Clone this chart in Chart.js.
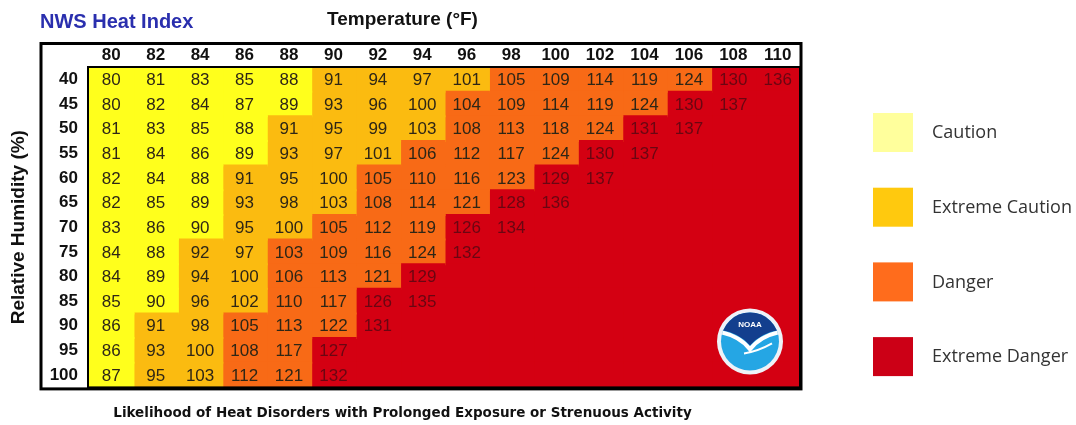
<!DOCTYPE html>
<html>
<head>
<meta charset="utf-8">
<title>NWS Heat Index</title>
<script src="https://cdn.jsdelivr.net/npm/chart.js@4.4.1/dist/chart.umd.min.js"></script>
<style>
  html, body { margin: 0; background: #fff; }
  #wrap { width: 1076px; height: 425px; }
</style>
</head>
<body>
<div id="wrap"><canvas id="heat-chart"></canvas></div>
<script>
var temps = [80, 82, 84, 86, 88, 90, 92, 94, 96, 98, 100, 102, 104, 106, 108, 110];
var humidity = [40, 45, 50, 55, 60, 65, 70, 75, 80, 85, 90, 95, 100];

// heat index per humidity row, left to right from 80F (blank cells left off)
var hi40 = [80, 81, 83, 85, 88, 91, 94, 97, 101, 105, 109, 114, 119, 124, 130, 136];
var hi45 = [80, 82, 84, 87, 89, 93, 96, 100, 104, 109, 114, 119, 124, 130, 137];
var hi50 = [81, 83, 85, 88, 91, 95, 99, 103, 108, 113, 118, 124, 131, 137];
var hi55 = [81, 84, 86, 89, 93, 97, 101, 106, 112, 117, 124, 130, 137];
var hi60 = [82, 84, 88, 91, 95, 100, 105, 110, 116, 123, 129, 137];
var hi65 = [82, 85, 89, 93, 98, 103, 108, 114, 121, 128, 136];
var hi70 = [83, 86, 90, 95, 100, 105, 112, 119, 126, 134];
var hi75 = [84, 88, 92, 97, 103, 109, 116, 124, 132];
var hi80 = [84, 89, 94, 100, 106, 113, 121, 129];
var hi85 = [85, 90, 96, 102, 110, 117, 126, 135];
var hi90 = [86, 91, 98, 105, 113, 122, 131];
var hi95 = [86, 93, 100, 108, 117, 127];
var hi100 = [87, 95, 103, 112, 121, 132];

// first temperature where each band starts, per humidity row
var extremeCautionFrom = [90, 90, 88, 88, 86, 86, 86, 84, 84, 84, 82, 82, 82];
var dangerFrom = [98, 96, 96, 94, 92, 92, 90, 88, 88, 88, 86, 86, 86];
var extremeDangerFrom = [108, 106, 104, 102, 100, 98, 96, 96, 94, 92, 92, 90, 90];

var levels = ['Caution', 'Extreme Caution', 'Danger', 'Extreme Danger'];
var cellColors = ['#ffff1c', '#fbbb10', '#f86a16', '#d40012'];
var legendColors = ['#ffff9c', '#ffc90e', '#ff6c1c', '#cc0016'];

var rows = [hi40, hi45, hi50, hi55, hi60, hi65, hi70, hi75, hi80, hi85, hi90, hi95, hi100];

function levelOf(row, t) {
  if (t >= extremeDangerFrom[row]) return 3;
  if (t >= dangerFrom[row]) return 2;
  if (t >= extremeCautionFrom[row]) return 1;
  return 0;
}

var FONT = '"Liberation Sans", Arial, sans-serif';
Chart.defaults.font.family = FONT;
Chart.defaults.color = '#111';

// one dataset per temperature column, each cell a floating bar
var datasets = temps.map(function (t) {
  return {
    label: t + '°F',
    data: humidity.map(function () { return [t - 1, t + 1]; }),
    backgroundColor: function (c) { return cellColors[levelOf(c.dataIndex, t)]; },
    borderWidth: 0,
    inflateAmount: 1,
    grouped: false,
    barPercentage: 1,
    categoryPercentage: 1
  };
});

var cellText = {
  id: 'cellText',
  afterDatasetsDraw: function (chart) {
    var ctx = chart.ctx, xs = chart.scales.x, ys = chart.scales.y;
    ctx.save();
    ctx.font = '17px ' + FONT;
    ctx.textAlign = 'center';
    ctx.textBaseline = 'middle';
    rows.forEach(function (vals, r) {
      vals.forEach(function (v, i) {
        ctx.fillStyle = levelOf(r, temps[i]) === 3 ? '#6a0612' : '#2e2616';
        ctx.fillText(v, xs.getPixelForValue(temps[i]), ys.getPixelForValue(r) + 1);
      });
    });
    ctx.restore();
  }
};

function drawNoaa(ctx, cx, cy, r) {
  ctx.save();
  ctx.beginPath();
  ctx.arc(cx, cy, r, 0, Math.PI * 2);
  ctx.fillStyle = '#eef2f8';
  ctx.fill();
  ctx.beginPath();
  ctx.arc(cx, cy, r - 4, 0, Math.PI * 2);
  ctx.fillStyle = '#25a6e4';
  ctx.fill();
  ctx.clip();
  ctx.beginPath();
  ctx.moveTo(cx - r, cy - r);
  ctx.lineTo(cx + r, cy - r);
  ctx.lineTo(cx + r, cy - 12);
  ctx.quadraticCurveTo(cx + 12, cy - 10, cx, cy + 4);
  ctx.quadraticCurveTo(cx - 12, cy - 10, cx - r, cy - 12);
  ctx.closePath();
  ctx.fillStyle = '#133f8e';
  ctx.fill();
  ctx.beginPath();
  ctx.moveTo(cx - r, cy - 10);
  ctx.quadraticCurveTo(cx - 10, cy - 6, cx, cy + 8);
  ctx.quadraticCurveTo(cx + 10, cy - 6, cx + r, cy - 10);
  ctx.lineWidth = 4;
  ctx.strokeStyle = '#ffffff';
  ctx.stroke();
  ctx.beginPath();
  ctx.moveTo(cx - 6, cy + 12);
  ctx.quadraticCurveTo(cx + 8, cy + 10, cx + 22, cy + 2);
  ctx.lineWidth = 2;
  ctx.stroke();
  ctx.fillStyle = '#ffffff';
  ctx.font = 'bold 8px ' + FONT;
  ctx.textAlign = 'center';
  ctx.textBaseline = 'middle';
  ctx.fillText('NOAA', cx, cy - 17);
  ctx.restore();
}

var frame = {
  id: 'frame',
  afterDraw: function (chart) {
    var ctx = chart.ctx, a = chart.chartArea, xs = chart.scales.x;
    ctx.save();
    drawNoaa(ctx, a.right - 50, a.bottom - 46, 33);
    ctx.strokeStyle = '#000';
    ctx.lineWidth = 3;
    ctx.strokeRect(a.left - 48, xs.top + 0.5, a.right - a.left + 49, a.bottom - xs.top + 1);
    ctx.lineWidth = 2;
    ctx.strokeRect(a.left - 1, a.top, a.right - a.left + 1, a.bottom - a.top);

    ctx.fillStyle = '#2a2fae';
    ctx.font = 'bold 20px ' + FONT;
    ctx.textAlign = 'left';
    ctx.textBaseline = 'middle';
    ctx.fillText('NWS Heat Index', a.left - 49, 22);

    // band legend
    ctx.font = '18px "Open Sans", sans-serif';
    levels.forEach(function (name, i) {
      var top = 113 + i * 74.7;
      ctx.fillStyle = legendColors[i];
      ctx.fillRect(873, top, 40, 39);
      ctx.fillStyle = '#333';
      ctx.fillText(name, 932, top + 20);
    });
    ctx.restore();
  }
};

new Chart(document.getElementById('heat-chart'), {
  type: 'bar',
  data: { labels: humidity.map(String), datasets: datasets },
  plugins: [cellText, frame],
  options: {
    indexAxis: 'y',
    responsive: true,
    maintainAspectRatio: false,
    animation: false,
    layout: { padding: { left: 5, right: 276, top: 0, bottom: 0 } },
    scales: {
      x: {
        type: 'linear',
        position: 'top',
        min: 79,
        max: 111,
        afterBuildTicks: function (s) { s.ticks = temps.map(function (v) { return { value: v }; }); },
        afterFit: function (s) { s.height = 24; },
        grid: { display: false, drawTicks: false },
        border: { display: false },
        ticks: { font: { size: 17, weight: 'bold' }, color: '#111', padding: 1, maxRotation: 0, autoSkip: false }
      },
      y: {
        afterFit: function (s) { s.width = 84; },
        grid: { display: false, drawTicks: false },
        border: { display: false },
        ticks: { font: { size: 17, weight: 'bold' }, color: '#111', padding: 11 },
        title: {
          display: true,
          text: 'Relative Humidity (%)',
          font: { size: 19, weight: 'bold' },
          color: '#111',
          padding: { top: 2, bottom: 0 }
        }
      }
    },
    plugins: {
      legend: { display: false },
      tooltip: { enabled: false },
      title: {
        display: true,
        text: 'Temperature (°F)',
        font: { size: 19, weight: 'bold' },
        color: '#111',
        padding: { top: 8, bottom: 12.2 }
      },
      subtitle: {
        display: true,
        position: 'bottom',
        text: 'Likelihood of Heat Disorders with Prolonged Exposure or Strenuous Activity',
        font: { size: 13.5, weight: 'bold', family: '"DejaVu Sans", sans-serif' },
        color: '#111',
        padding: { top: 18, bottom: 3.4 }
      }
    }
  }
});
</script>
</body>
</html>
